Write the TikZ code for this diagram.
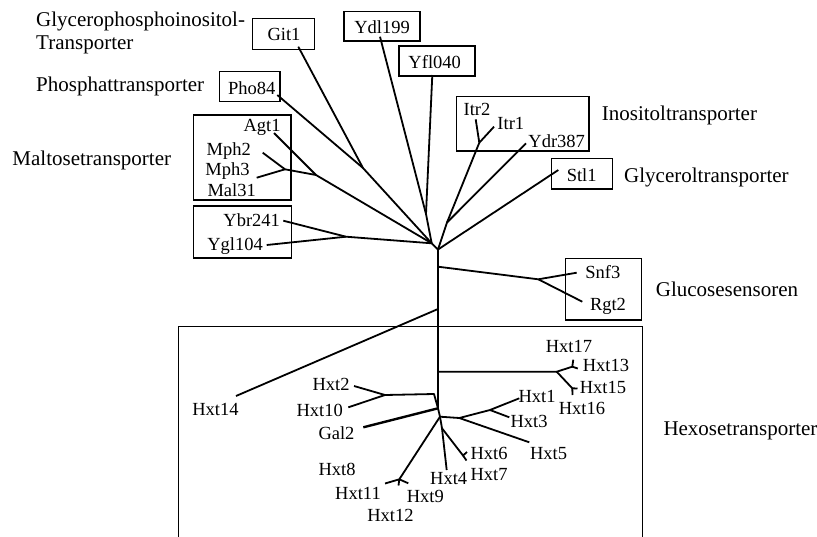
\documentclass[tikz,border=0pt]{standalone}
\usepackage{fontspec}
\setmainfont{Liberation Serif}
\usetikzlibrary{positioning}

\begin{document}
\begin{tikzpicture}[x=1pt,y=-1pt]
    \tikzstyle{every node}=[font=\fontsize{18.5}{20}\selectfont, inner sep=0pt]
    \tikzstyle{leaf} = [anchor=base]
    \tikzstyle{group} = [anchor=base west, font=\fontsize{21}{24}\selectfont]
    \tikzstyle{branch} = [line width=1.8pt, line join=round]
    \tikzstyle{frame} = [line width=1.5pt]

    \useasboundingbox (0,0) rectangle (817,536);

    % % group names
    \node[group](gpi) at (36,26.6) {Glycerophosphoinositol-};
    \node[group](gpt) at (36,49) {Transporter};
    \node[group](pho) at (36,91.2) {Phosphattransporter};
    \node[group](mal) at (12.3,165.6) {Maltosetransporter};
    \node[group](ino) at (601.7,120.6) {Inositoltransporter};
    \node[group](gly) at (624,182.2) {Glyceroltransporter};
    \node[group](glu) at (655.7,296) {Glucosesensoren};
    \node[group](hex) at (663.3,435.6) {Hexosetransporter};

    % % frames
    \draw[frame] (252.7,18.3) rectangle (314.3,49.3);
    \draw[frame] (344,11.7) rectangle (420,41);
    \draw[frame] (399,46) rectangle (475,76);
    \draw[frame] (219.3,71.7) rectangle (280,101.7);
    \draw[frame] (193.5,115) rectangle (291,200);
    \draw[frame] (193.5,206) rectangle (291.5,258);
    \draw[frame] (456.7,96.7) rectangle (589,151);
    \draw[frame] (551.7,158.7) rectangle (612.3,189);
    \draw[frame] (565.7,258.3) rectangle (641.7,320);
    \draw[frame] (178.3,545) |- (642.7,326.7) -- (642.7,545);

    % % gene names
    \node[leaf](git1) at (284,40.5) {Git1};
    \node[leaf](ydl199) at (382,33) {Ydl199};
    \node[leaf](yfl040) at (434.7,68.3) {Yfl040};
    \node[leaf](pho84) at (251.7,94) {Pho84};
    \node[leaf](agt1) at (262,131.5) {Agt1};
    \node[leaf](mph2) at (228.7,155.5) {Mph2};
    \node[leaf](mph3) at (227.5,175.5) {Mph3};
    \node[leaf](mal31) at (231.7,196.2) {Mal31};
    \node[leaf](ybr241) at (251.7,226.2) {Ybr241};
    \node[leaf](ygl104) at (235,250.5) {Ygl104};
    \node[leaf](itr2) at (477,115.5) {Itr2};
    \node[leaf](itr1) at (510.8,129) {Itr1};
    \node[leaf](ydr387) at (556.7,147.5) {Ydr387};
    \node[leaf](stl1) at (581.7,181.5) {Stl1};
    \node[leaf](snf3) at (602.8,278) {Snf3};
    \node[leaf](rgt2) at (608,310) {Rgt2};
    \node[leaf](hxt14) at (215.5,415.5) {Hxt14};
    \node[leaf](hxt2) at (331,390.5) {Hxt2};
    \node[leaf](hxt10) at (319.7,416.2) {Hxt10};
    \node[leaf](gal2) at (336.5,439) {Gal2};
    \node[leaf](hxt8) at (337,475) {Hxt8};
    \node[leaf](hxt11) at (358,499) {Hxt11};
    \node[leaf](hxt9) at (425.3,502.2) {Hxt9};
    \node[leaf](hxt12) at (390.5,521.5) {Hxt12};
    \node[leaf](hxt4) at (448.7,484) {Hxt4};
    \node[leaf](hxt17) at (569,352.2) {Hxt17};
    \node[leaf](hxt13) at (606,371.5) {Hxt13};
    \node[leaf](hxt15) at (603,393.2) {Hxt15};
    \node[leaf](hxt16) at (582,414) {Hxt16};
    \node[leaf](hxt1) at (537,402.2) {Hxt1};
    \node[leaf](hxt3) at (529,427.2) {Hxt3};
    \node[leaf](hxt5) at (548.5,459) {Hxt5};
    \node[leaf](hxt6) at (489,459) {Hxt6};
    \node[leaf](hxt7) at (489,480.5) {Hxt7};

    % % branch points
    \coordinate (hubl) at (431.7,243.3);
    \coordinate (hubr) at (438,249.5);
    \coordinate (jgp) at (363,168);
    \coordinate (jmal) at (316,175);
    \coordinate (jmph) at (285,169.3);
    \coordinate (jybr) at (346,236.7);
    \coordinate (jydl) at (426,214);
    \coordinate (jitr) at (479.3,142.7);
    \coordinate (jino) at (447,222.5);
    \coordinate (vglu) at (438,266.7);
    \coordinate (jglu) at (538.3,279.3);
    \coordinate (v14) at (438,309);
    \coordinate (v17) at (438,371.7);
    \coordinate (j17) at (556.7,371.7);
    \coordinate (f13) at (572.3,366.7);
    \coordinate (f15) at (572.3,388.3);
    \coordinate (vhxt) at (438,408.3);
    \coordinate (j2a) at (434,394);
    \coordinate (j2) at (385,395);
    \coordinate (vlow) at (440,416.7);
    \coordinate (j1) at (459.3,418);
    \coordinate (j13) at (490,410);
    \coordinate (j4) at (442,428.3);
    \coordinate (f6) at (463,455.5);
    \coordinate (f9) at (399.3,479.3);

    % % leaf ends
    \coordinate (lgit1) at (298.3,46.7);
    \coordinate (lpho) at (277.3,95);
    \coordinate (lagt) at (274,133);
    \coordinate (lmph2) at (262.7,152.7);
    \coordinate (lmph3) at (256.7,177.7);
    \coordinate (lybr) at (283.3,220.7);
    \coordinate (lygl) at (266.7,245);
    \coordinate (lydl) at (380,36.7);
    \coordinate (lyfl) at (432.3,75);
    \coordinate (litr2) at (475.7,119.3);
    \coordinate (litr1) at (494,126.7);
    \coordinate (lydr) at (526,143.3);
    \coordinate (lstl) at (558.3,170);
    \coordinate (lsnf) at (576.7,272.7);
    \coordinate (lrgt) at (582.3,301.7);
    \coordinate (l14) at (236,396);
    \coordinate (l17) at (573.3,359.7);
    \coordinate (l13) at (577.8,368.5);
    \coordinate (l15) at (577.5,388.5);
    \coordinate (l16) at (572.5,395);
    \coordinate (l2) at (354,386);
    \coordinate (l10) at (348.3,407.3);
    \coordinate (lgal) at (363.3,427.3);
    \coordinate (l1) at (519.3,398.3);
    \coordinate (l3) at (509.3,417.3);
    \coordinate (l5) at (529.3,442.3);
    \coordinate (l6) at (467,452);
    \coordinate (l7) at (466.5,460.5);
    \coordinate (l4) at (446.7,470);
    \coordinate (l11) at (385,483.5);
    \coordinate (l9) at (408.3,483.3);
    \coordinate (l12) at (398.5,485.5);

    % % upper tree
    \draw[branch] (lgit1) -- (jgp) -- (hubl);
    \draw[branch] (lpho) -- (jgp);
    \draw[branch] (lagt) -- (jmal) -- (hubl);
    \draw[branch] (lmph2) -- (jmph) -- (jmal);
    \draw[branch] (lmph3) -- (jmph);
    \draw[branch] (lybr) -- (jybr) -- (hubl);
    \draw[branch] (lygl) -- (jybr);
    \draw[branch] (lydl) -- (jydl) -- (hubl);
    \draw[branch] (lyfl) -- (jydl);
    \draw[branch] (hubl) -- (hubr);
    \draw[branch] (litr2) -- (jitr) -- (jino) -- (hubr);
    \draw[branch] (litr1) -- (jitr);
    \draw[branch] (lydr) -- (jino);
    \draw[branch] (lstl) -- (hubr);
    \draw[branch] (hubr) -- (vhxt);
    \draw[branch] (vglu) -- (jglu) -- (lsnf);
    \draw[branch] (jglu) -- (lrgt);

    % % hexose tree
    \draw[branch] (v14) -- (l14);
    \draw[branch] (v17) -- (j17) -- (f13) -- (l17);
    \draw[branch] (f13) -- (l13);
    \draw[branch] (j17) -- (f15) -- (l15);
    \draw[branch] (f15) -- (l16);
    \draw[branch] (l2) -- (j2) -- (j2a) -- (vhxt);
    \draw[branch] (l10) -- (j2);
    \draw[branch, line width=2.4pt] (lgal) -- (vhxt);
    \draw[branch] (vhxt) -- (vlow) -- (j1) -- (l5);
    \draw[branch] (j1) -- (j13) -- (l1);
    \draw[branch] (j13) -- (l3);
    \draw[branch] (vlow) -- (j4) -- (l4);
    \draw[branch] (j4) -- (f6) -- (l6);
    \draw[branch] (f6) -- (l7);
    \draw[branch] (vlow) -- (f9) -- (l11);
    \draw[branch] (f9) -- (l9);
    \draw[branch] (f9) -- (l12);
\end{tikzpicture}
\end{document}
